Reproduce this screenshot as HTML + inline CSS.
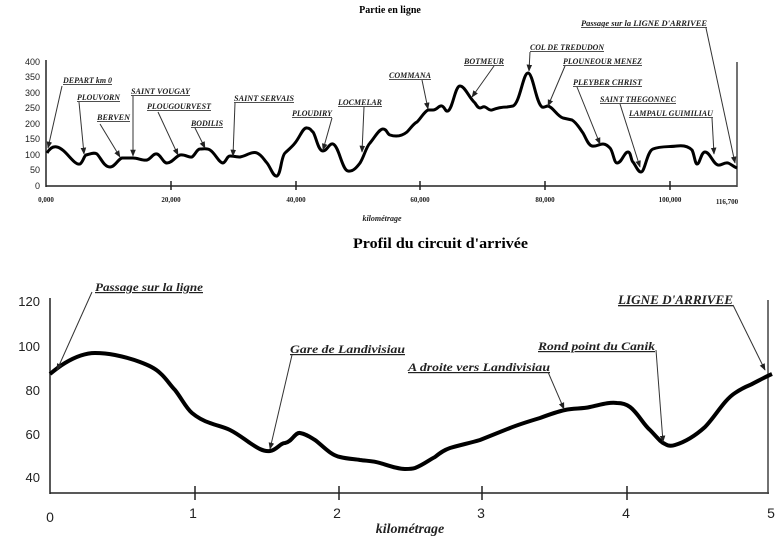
<!DOCTYPE html>
<html><head><meta charset="utf-8"><style>
html,body{margin:0;padding:0;background:#fff;}
svg{display:block;}
.t{font-family:"Liberation Serif",serif;font-weight:bold;font-style:italic;text-decoration:underline;fill:#222;}
.s{font-family:"Liberation Sans",sans-serif;fill:#222;}
.a{stroke:#333;stroke-width:1;fill:none;marker-end:url(#ar);}
</style></head><body>
<svg width="779" height="542" viewBox="0 0 779 542" xmlns="http://www.w3.org/2000/svg">
<defs><marker id="ar" viewBox="0 0 10 10" refX="9" refY="5" markerWidth="7" markerHeight="7" orient="auto"><path d="M0,1 L10,5 L0,9 z" fill="#222"/></marker></defs>
<rect width="779" height="542" fill="#fff"/>
<!-- TOP CHART -->
<text x="390" y="13" text-anchor="middle" font-family="Liberation Serif,serif" font-weight="bold" font-size="10">Partie en ligne</text>
<g class="s" font-size="9" text-anchor="end">
<text x="40" y="65">400</text><text x="40" y="80">350</text><text x="40" y="96">300</text><text x="40" y="111">250</text><text x="40" y="127">200</text><text x="40" y="142">150</text><text x="40" y="158">100</text><text x="40" y="173">50</text><text x="40" y="189">0</text>
</g>
<line x1="46" y1="60" x2="46" y2="187" stroke="#222" stroke-width="1.5"/>
<line x1="46" y1="186" x2="737" y2="186" stroke="#222" stroke-width="1.5"/>
<line x1="737" y1="62" x2="737" y2="187" stroke="#444" stroke-width="1.5"/>
<g stroke="#222" stroke-width="1.5"><line x1="171" y1="181" x2="171" y2="190"/><line x1="296" y1="181" x2="296" y2="190"/><line x1="420" y1="181" x2="420" y2="190"/><line x1="545" y1="181" x2="545" y2="190"/><line x1="670" y1="181" x2="670" y2="190"/></g>
<g font-family="Liberation Serif,serif" font-weight="bold" font-size="7" text-anchor="middle" fill="#222">
<text x="46" y="202">0,000</text><text x="171" y="202">20,000</text><text x="296" y="202">40,000</text><text x="420" y="202">60,000</text><text x="545" y="202">80,000</text><text x="670" y="202">100,000</text><text x="727" y="204">116,700</text>
</g>
<text x="382" y="221" text-anchor="middle" font-family="Liberation Serif,serif" font-style="italic" font-weight="bold" font-size="8" fill="#222">kilométrage</text>
<path fill="none" stroke="#000" stroke-width="3" stroke-linejoin="round" d="M47,153 C50,148 53,146 57,147 C66,149 74,166 80,164 C83,162 84,156 86,155 C90,154 94,152 97,154 C101,158 104,167 110,167 C115,167 118,159 122,158 L133,158 C138,158 143,161 147,160 C151,159 153,153 157,154 C161,155 163,163 167,163 C172,163 176,156 180,155 C185,154 189,158 192,157 C195,155 197,149 200,149 C204,149 207,148 210,150 C215,153 219,163 223,163 C226,162 227,156 230,156 C233,156 237,157 240,157 C246,156 252,151 257,153 C262,155 264,160 267,163 C271,168 273,177 277,176 C281,174 281,157 285,153 C289,149 292,147 295,143 C300,137 303,127 307,128 C311,128 311,131 313,132 C316,136 318,151 323,151 C327,151 329,143 333,144 C339,146 342,170 348,171 C353,172 357,167 360,163 C364,157 366,147 370,143 C375,137 379,129 383,129 C387,129 387,134 390,135 C396,137 402,136 407,132 C411,128 413,124 417,122 C421,118 424,112 428,110 L433,110 C437,110 439,105 442,106 C445,107 445,112 448,111 C453,108 455,86 460,86 C465,86 469,98 475,103 C477,106 478,108 480,108 C482,108 483,106 485,107 C488,108 489,111 492,110 C497,108 502,107 507,107 L513,106 C520,103 523,73 528,73 C533,73 536,103 542,107 C544,108 546,106 548,106 C553,107 557,116 563,118 L572,120 C577,123 580,129 583,133 C586,138 588,145 592,146 C596,147 599,144 603,144 C606,144 608,146 610,148 C613,151 614,163 617,163 C622,163 624,152 628,152 C631,152 631,161 633,162 C636,166 638,172 641,172 C645,172 647,151 653,149 C660,146 670,147 677,146 C684,145 689,147 692,150 C694,153 695,164 697,164 C700,164 701,152 705,152 C710,152 713,164 718,165 C721,166 724,162 728,163 C731,164 734,167 737,168"/>
<g class="t" font-size="8" lengthAdjust="spacingAndGlyphs">
<text x="63" y="83" textLength="49" lengthAdjust="spacingAndGlyphs">DEPART km 0</text>
<text x="77" y="100" textLength="43" lengthAdjust="spacingAndGlyphs">PLOUVORN</text>
<text x="97" y="120" textLength="33" lengthAdjust="spacingAndGlyphs">BERVEN</text>
<text x="131" y="94" textLength="59" lengthAdjust="spacingAndGlyphs">SAINT VOUGAY</text>
<text x="147" y="109" textLength="64" lengthAdjust="spacingAndGlyphs">PLOUGOURVEST</text>
<text x="191" y="126" textLength="32" lengthAdjust="spacingAndGlyphs">BODILIS</text>
<text x="234" y="101" textLength="60" lengthAdjust="spacingAndGlyphs">SAINT SERVAIS</text>
<text x="292" y="116" textLength="40" lengthAdjust="spacingAndGlyphs">PLOUDIRY</text>
<text x="338" y="105" textLength="44" lengthAdjust="spacingAndGlyphs">LOCMELAR</text>
<text x="389" y="78" textLength="42" lengthAdjust="spacingAndGlyphs">COMMANA</text>
<text x="464" y="64" textLength="40" lengthAdjust="spacingAndGlyphs">BOTMEUR</text>
<text x="530" y="50" textLength="74" lengthAdjust="spacingAndGlyphs">COL DE TREDUDON</text>
<text x="563" y="64" textLength="79" lengthAdjust="spacingAndGlyphs">PLOUNEOUR MENEZ</text>
<text x="573" y="85" textLength="69" lengthAdjust="spacingAndGlyphs">PLEYBER CHRIST</text>
<text x="600" y="102" textLength="76" lengthAdjust="spacingAndGlyphs">SAINT THEGONNEC</text>
<text x="629" y="116" textLength="84" lengthAdjust="spacingAndGlyphs">LAMPAUL GUIMILIAU</text>
<text x="581" y="26" textLength="126" lengthAdjust="spacingAndGlyphs">Passage sur la LIGNE D'ARRIVEE</text>
</g>
<g class="a">
<path d="M62,86 L48,148"/><path d="M79,102 L84,154"/><path d="M100,124 L120,157"/><path d="M133,96 L133,156"/><path d="M158,112 L178,155"/><path d="M195,128 L205,148"/><path d="M235,103 L233,156"/><path d="M332,118 L323,150"/><path d="M364,107 L362,152"/><path d="M422,80 L428,109"/><path d="M494,66 L472,97"/><path d="M530,52 L529,71"/><path d="M565,66 L548,106"/><path d="M577,87 L600,144"/><path d="M620,104 L640,167"/><path d="M712,118 L714,154"/><path d="M706,28 L735,163"/>
</g>
<!-- BOTTOM CHART -->
<text x="353" y="248" textLength="175" lengthAdjust="spacingAndGlyphs" font-family="Liberation Serif,serif" font-weight="bold" font-size="15">Profil du  circuit d'arrivée</text>
<g class="s" font-size="13" text-anchor="end">
<text x="40" y="306">120</text><text x="40" y="351">100</text><text x="40" y="395">80</text><text x="40" y="439">60</text><text x="40" y="482">40</text>
</g>
<line x1="50" y1="298" x2="50" y2="494" stroke="#222" stroke-width="1.5"/>
<line x1="50" y1="493" x2="769" y2="493" stroke="#222" stroke-width="1.5"/>
<line x1="768" y1="300" x2="768" y2="494" stroke="#444" stroke-width="1.5"/>
<g stroke="#222" stroke-width="1.5"><line x1="195" y1="486" x2="195" y2="500"/><line x1="339" y1="486" x2="339" y2="500"/><line x1="482" y1="486" x2="482" y2="500"/><line x1="627" y1="486" x2="627" y2="500"/></g>
<g class="s" font-size="14" text-anchor="middle">
<text x="50" y="522">0</text><text x="193" y="518">1</text><text x="337" y="518">2</text><text x="481" y="518">3</text><text x="626" y="518">4</text><text x="771" y="518">5</text>
</g>
<text x="410" y="533" text-anchor="middle" font-family="Liberation Serif,serif" font-style="italic" font-weight="bold" font-size="14" fill="#222">kilométrage</text>
<path fill="none" stroke="#000" stroke-width="4" stroke-linejoin="round" d="M50,374 C56,369 60,366 65,363 C75,357 85,353 95,353 C104,353 110,354 115,355 C125,357 132,359 140,362 C148,365 155,368 160,373 C166,378 170,385 175,390 C182,399 186,408 192,413 C198,418 204,421 210,423 C218,426 224,427 230,430 C238,434 244,439 250,443 C256,447 263,452 270,451 C277,450 280,443 285,443 C292,442 295,432 300,433 C306,434 310,437 315,440 C322,445 330,455 340,457 C348,459 354,459 360,460 C368,461 374,461 380,463 C390,466 398,469 405,469 C410,469 412,469 415,468 C423,465 429,460 435,457 C440,453 444,450 450,448 C460,445 470,443 480,440 C490,436 500,432 510,428 C520,424 530,421 540,418 C548,415 556,412 565,410 C574,408 582,409 590,407 C600,405 608,402 617,403 C622,403 626,404 630,407 C638,413 643,424 650,430 C656,436 660,442 665,444 C668,446 672,446 675,445 C685,442 695,436 705,427 C715,417 724,400 735,393 C741,389 745,387 750,385 C758,381 765,377 772,374"/>
<g class="t" font-size="12">
<text x="95" y="291" textLength="108" lengthAdjust="spacingAndGlyphs">Passage sur la ligne</text>
<text x="290" y="353" textLength="115" lengthAdjust="spacingAndGlyphs">Gare de Landivisiau</text>
<text x="408" y="371" textLength="142" lengthAdjust="spacingAndGlyphs">A droite vers Landivisiau</text>
<text x="538" y="350" textLength="117" lengthAdjust="spacingAndGlyphs">Rond point du Canik</text>
<text x="618" y="304" textLength="115" lengthAdjust="spacingAndGlyphs" font-size="13">LIGNE D'ARRIVEE</text>
</g>
<g class="a">
<path d="M92,292 L57,370"/><path d="M292,355 L270,449"/><path d="M548,372 L564,409"/><path d="M656,350 L663,442"/><path d="M733,305 L765,370"/>
</g>
</svg>
</body></html>
